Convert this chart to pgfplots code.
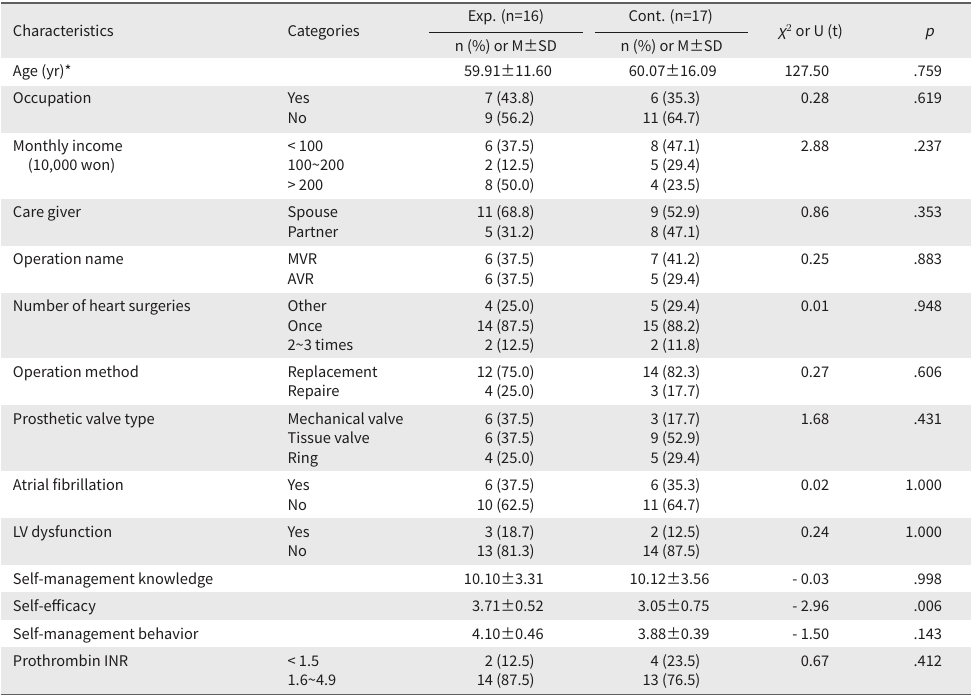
\documentclass[border=0pt]{standalone}
\usepackage{pgfplots}
\pgfplotsset{compat=1.18}
\usepackage{pgfplotstable}
\usepackage{fontspec}
\setmainfont{Noto Sans CJK KR}
\newfontfamily\slantfont[FakeSlant=0.2]{Noto Sans CJK KR}
\definecolor{txt}{RGB}{30,28,28}
\definecolor{shade}{RGB}{233,233,233}
\definecolor{rulec}{RGB}{95,95,95}

\pgfplotstableread[col sep=semicolon]{
x;y;label
12;37;Characteristics
287;37;Categories
12;77;Age (yr)*
12;104;Occupation
287;104;Yes
287;123.5;No
12;151.5;Monthly income
27;171;(10,000 won)
287;151.5;< 100
287;171;100\char126 200
287;190.5;> 200
12;218;Care giver
287;218;Spouse
287;237.5;Partner
12;265;Operation name
287;265;MVR
287;284.5;AVR
12;312;Number of heart surgeries
287;312;Other
287;331.5;Once
287;351;2\char126 3 times
12;378;Operation method
287;378;Replacement
287;397;Repaire
12;425;Prosthetic valve type
287;425;Mechanical valve
287;444.5;Tissue valve
287;464;Ring
12;491.5;Atrial fibrillation
287;491.5;Yes
287;511;No
12;538;LV dysfunction
287;538;Yes
287;557.5;No
12;585;Self-management knowledge
12;612.5;Self-efficacy
12;640;Self-management behavior
12;667;Prothrombin INR
287;667;< 1.5
287;687;1.6\char126 4.9
}\lefttab

\pgfplotstableread[col sep=semicolon]{
x;y;label
535;104;7 (43.8)
535;123.5;9 (56.2)
535;151.5;6 (37.5)
535;171;2 (12.5)
535;190.5;8 (50.0)
535;218;11 (68.8)
535;237.5;5 (31.2)
535;265;6 (37.5)
535;284.5;6 (37.5)
535;312;4 (25.0)
535;331.5;14 (87.5)
535;351;2 (12.5)
535;378;12 (75.0)
535;397;4 (25.0)
535;425;6 (37.5)
535;444.5;6 (37.5)
535;464;4 (25.0)
535;491.5;6 (37.5)
535;511;10 (62.5)
535;538;3 (18.7)
535;557.5;13 (81.3)
535;667;2 (12.5)
535;687;14 (87.5)
544;585;10.10±3.31
544;612.5;3.71±0.52
544;640;4.10±0.46
701;104;6 (35.3)
701;123.5;11 (64.7)
701;151.5;8 (47.1)
701;171;5 (29.4)
701;190.5;4 (23.5)
701;218;9 (52.9)
701;237.5;8 (47.1)
701;265;7 (41.2)
701;284.5;5 (29.4)
701;312;5 (29.4)
701;331.5;15 (88.2)
701;351;2 (11.8)
701;378;14 (82.3)
701;397;3 (17.7)
701;425;3 (17.7)
701;444.5;9 (52.9)
701;464;5 (29.4)
701;491.5;6 (35.3)
701;511;11 (64.7)
701;538;2 (12.5)
701;557.5;14 (87.5)
701;667;4 (23.5)
701;687;13 (76.5)
710;585;10.12±3.56
710;612.5;3.05±0.75
710;640;3.88±0.39
830;77;127.50
830;104;0.28
830;151.5;2.88
830;218;0.86
830;265;0.25
830;312;0.01
830;378;0.27
830;425;1.68
830;491.5;0.02
830;538;0.24
830;585;- 0.03
830;612.5;- 2.96
830;640;- 1.50
830;667;0.67
943;77;.759
943;104;.619
943;151.5;.237
943;218;.353
943;265;.883
943;312;.948
943;378;.606
943;425;.431
943;491.5;1.000
943;538;1.000
943;585;.998
943;612.5;.006
943;640;.143
943;667;.412
}\righttab

\pgfplotstableread[col sep=semicolon]{
x;y;label
506;22;Exp.  (n=16)
506;52;n (\%) or M±SD
671;22;Cont.  (n=17)
672;52;n (\%) or M±SD
508;77;59.91±11.60
673;77;60.07±16.09
811;37;{\slantfont χ}$^{2}$ or U (t)
930;37;{\slantfont p}
}\centertab

\pgfplotstableread{
x y
0 0
972 0
972 700
0 700
}\pagebox

\begin{document}
\begin{tikzpicture}
\begin{axis}[
  scale only axis, width=729pt, height=525pt,
  xmin=0, xmax=972, ymin=0, ymax=700, y dir=reverse,
  hide axis, clip=false,
  every axis plot/.append style={mark=none},
  txtstyle/.style={draw=none, nodes near coords, point meta=explicit symbolic,
     every node near coord/.style={inner sep=0pt, text=txt,
       font=\fontsize{11}{13}\selectfont, anchor=#1}},
]
% page background
\addplot[fill=white, draw=none] table[x=x, y=y] {\pagebox};
% shaded rows
\addplot[fill=shade, draw=none] coordinates {(0,3) (972,3) (972,58) (0,58)};
\addplot[fill=shade, draw=none] coordinates {(0,86) (972,86) (972,133) (0,133)};
\addplot[fill=shade, draw=none] coordinates {(0,199) (972,199) (972,246) (0,246)};
\addplot[fill=shade, draw=none] coordinates {(0,293) (972,293) (972,359) (0,359)};
\addplot[fill=shade, draw=none] coordinates {(0,406) (972,406) (972,472) (0,472)};
\addplot[fill=shade, draw=none] coordinates {(0,519) (972,519) (972,566) (0,566)};
\addplot[fill=shade, draw=none] coordinates {(0,593) (972,593) (972,621) (0,621)};
\addplot[fill=shade, draw=none] coordinates {(0,648) (972,648) (972,695) (0,695)};
% rules
\addplot[rulec, line width=1.1pt] coordinates {(0,3) (972,3)};
\addplot[rulec, line width=1.1pt] coordinates {(0,695.5) (972,695.5)};
\addplot[txt, line width=0.6pt] coordinates {(429,32) (583,32)};
\addplot[txt, line width=0.6pt] coordinates {(595,32) (748,32)};
% text
\addplot[txtstyle=base west] table[x=x, y=y, meta=label] {\lefttab};
\addplot[txtstyle=base east] table[x=x, y=y, meta=label] {\righttab};
\addplot[txtstyle=base] table[x=x, y=y, meta=label] {\centertab};
\end{axis}
\end{tikzpicture}
\end{document}
